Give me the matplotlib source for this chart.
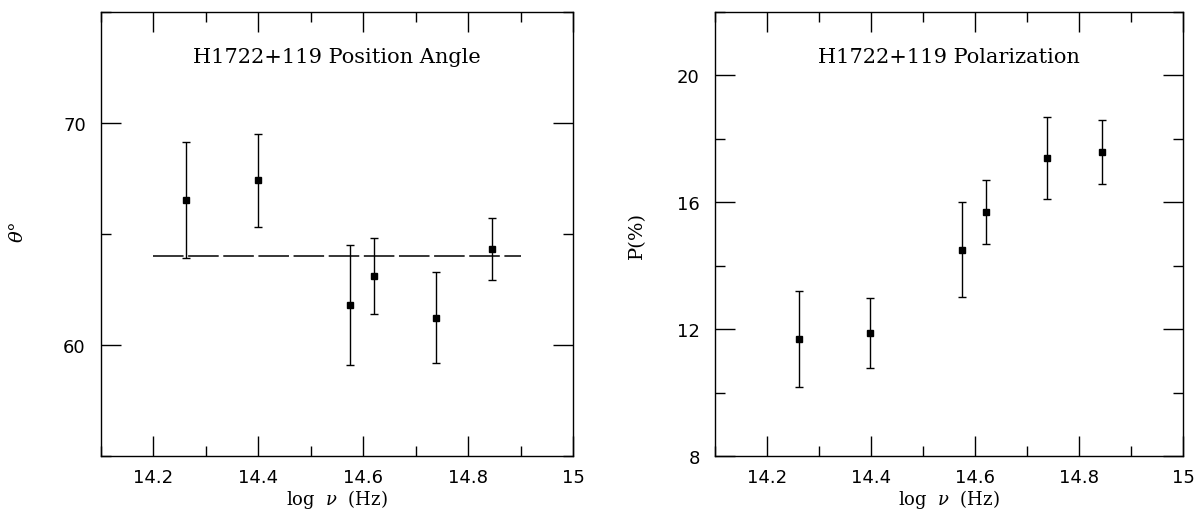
import matplotlib
matplotlib.use("Agg")
import matplotlib.pyplot as plt
from matplotlib.ticker import MultipleLocator, FormatStrFormatter

plt.rcParams['mathtext.fontset'] = 'dejavuserif'

# log frequency of each band (same for both panels)
log_nu = [14.262, 14.399, 14.575, 14.621, 14.738, 14.845]

# position angle (deg) and its error
theta = [66.53, 67.42, 61.80, 63.11, 61.22, 64.32]
theta_err = [2.6, 2.1, 2.7, 1.7, 2.05, 1.4]
theta_mean = 64.02
mean_range = [14.2, 14.9]

# polarization (%) and its error
pol = [11.69, 11.88, 14.50, 15.69, 17.39, 17.59]
pol_err = [1.5, 1.1, 1.5, 1.0, 1.3, 1.0]

fig = plt.figure(figsize=(11.96, 5.10), dpi=100)
ax1 = fig.add_axes([0.0845, 0.1039, 0.3946, 0.8706])
ax2 = fig.add_axes([0.5978, 0.1039, 0.3913, 0.8706])


def style_axis(ax, ymajor, yminor):
    ax.set_xlim(14.1, 15)
    ax.xaxis.set_major_locator(MultipleLocator(0.2))
    ax.xaxis.set_minor_locator(MultipleLocator(0.1))
    ax.yaxis.set_major_locator(MultipleLocator(ymajor))
    ax.yaxis.set_minor_locator(MultipleLocator(yminor))
    ax.xaxis.set_major_formatter(FormatStrFormatter('%g'))
    ax.yaxis.set_major_formatter(FormatStrFormatter('%g'))
    ax.tick_params(which='both', direction='in', top=True, right=True,
                   width=1.0, color='black')
    ax.tick_params(which='major', length=14.5, labelsize=13, pad=11)
    ax.tick_params(axis='x', which='major', pad=8.5)
    ax.tick_params(which='minor', length=7.2)
    for s in ax.spines.values():
        s.set_linewidth(1.0)


# left: position angle
style_axis(ax1, 10, 5)
ax1.set_ylim(55, 75)
ax1.errorbar(log_nu, theta, yerr=theta_err, fmt='s', color='black',
             markersize=4.5, elinewidth=1.0, capsize=3, capthick=1.0)
ax1.plot(mean_range, [theta_mean, theta_mean], color='black',
         linewidth=1.1, dashes=(20, 3))
ax1.text(0.5, 0.899, 'H1722+119 Position Angle', transform=ax1.transAxes,
         ha='center', va='center', family='DejaVu Serif', fontsize=15)
ax1.text(-0.177, 0.507, r'$\theta\degree$', transform=ax1.transAxes,
         rotation=90, ha='center', va='center', fontsize=14)
ax1.text(0.5, -0.108, r'log  $\nu$  (Hz)', transform=ax1.transAxes,
         ha='center', va='baseline', family='DejaVu Serif', fontsize=13)

# right: polarization
style_axis(ax2, 4, 2)
ax2.set_ylim(8, 22)
ax2.errorbar(log_nu, pol, yerr=pol_err, fmt='s', color='black',
             markersize=4.5, elinewidth=1.0, capsize=3, capthick=1.0)
ax2.text(0.5, 0.899, 'H1722+119 Polarization', transform=ax2.transAxes,
         ha='center', va='center', family='DejaVu Serif', fontsize=15)
ax2.text(-0.167, 0.5, 'P(%)', transform=ax2.transAxes,
         rotation=90, ha='center', va='center', family='DejaVu Serif',
         fontsize=14)
ax2.text(0.5, -0.108, r'log  $\nu$  (Hz)', transform=ax2.transAxes,
         ha='center', va='baseline', family='DejaVu Serif', fontsize=13)

fig.savefig('out.png', dpi=100)
